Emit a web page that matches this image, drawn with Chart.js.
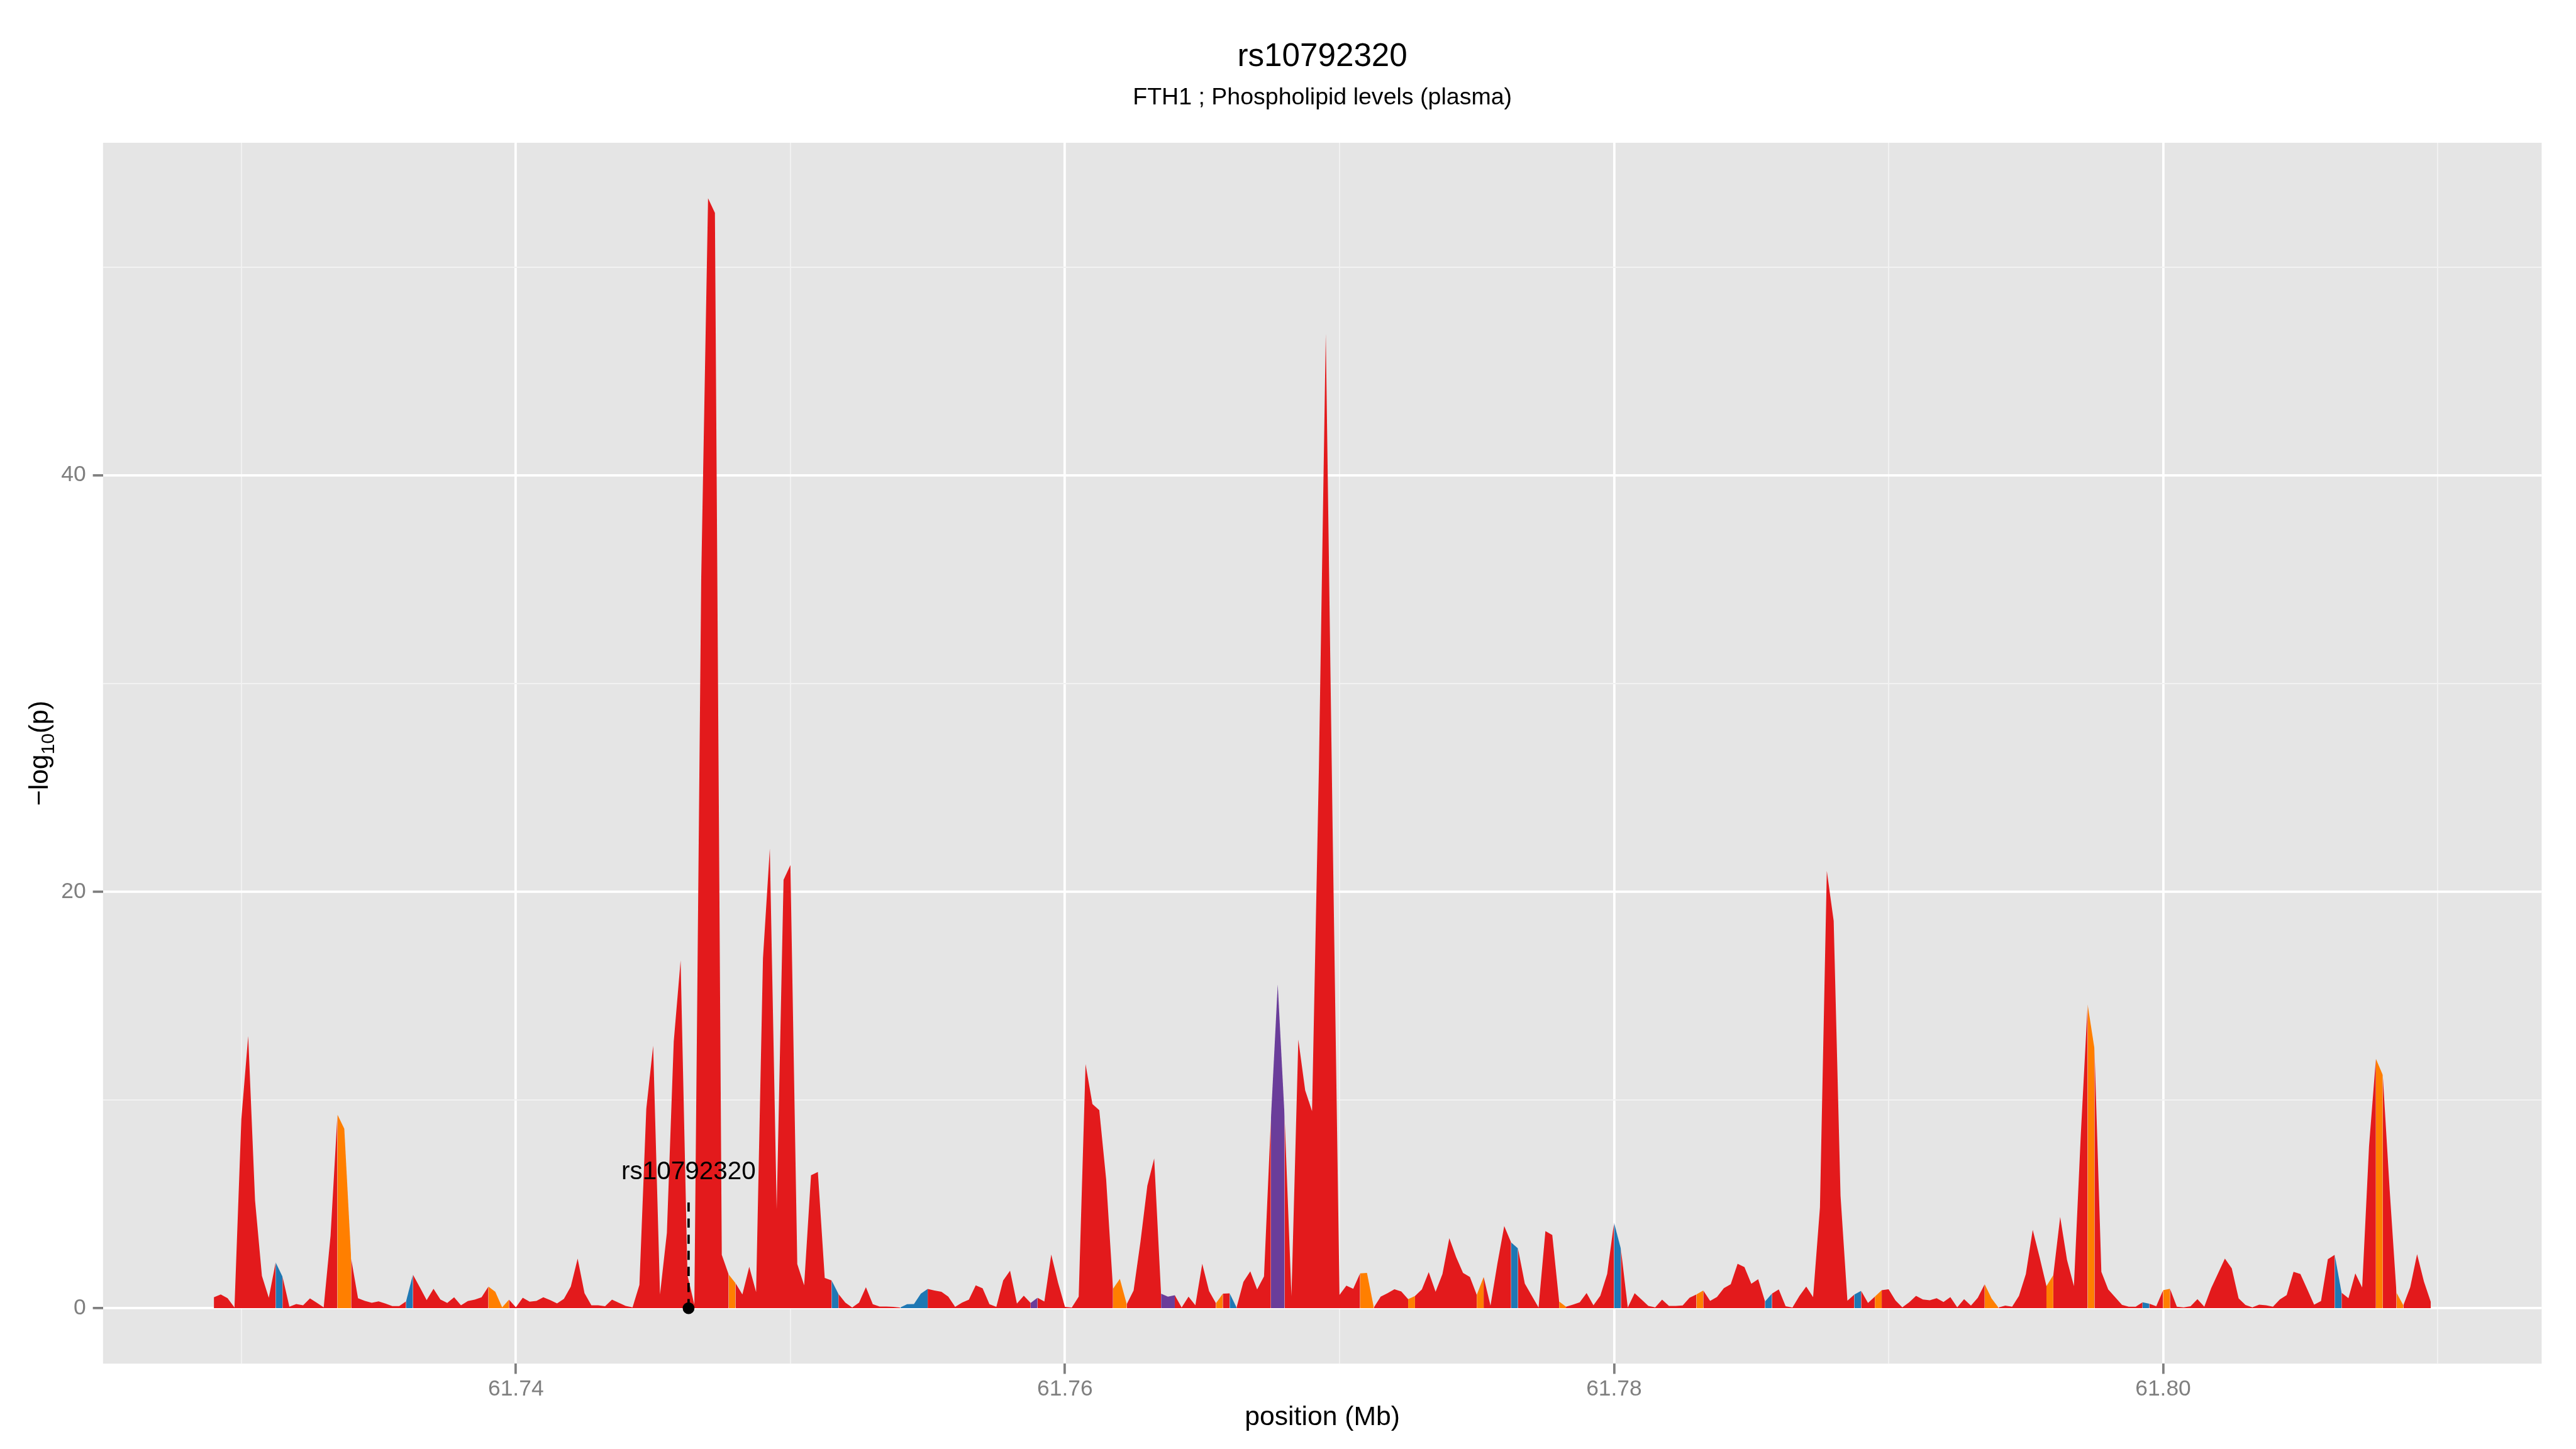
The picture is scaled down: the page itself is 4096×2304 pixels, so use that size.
<!DOCTYPE html>
<html><head><meta charset="utf-8">
<script src="https://cdn.jsdelivr.net/npm/chart.js@4.4.1/dist/chart.umd.min.js"></script>
<style>html,body{margin:0;padding:0;background:#fff;}canvas{display:block;}</style>
</head><body>
<canvas id="c" width="4096" height="2304"></canvas>
<script>
// ---------------- DATA ----------------
const positionsMb = [
61.72900,61.72925,61.72950,61.72975,61.73000,61.73025,61.73050,61.73075,61.73100,61.73125,61.73150,61.73175,61.73200,61.73225,61.73250,61.73275,
61.73300,61.73325,61.73350,61.73375,61.73400,61.73425,61.73450,61.73475,61.73500,61.73525,61.73550,61.73575,61.73600,61.73625,61.73650,61.73675,
61.73700,61.73725,61.73750,61.73775,61.73800,61.73825,61.73850,61.73875,61.73900,61.73925,61.73950,61.73975,61.74000,61.74025,61.74050,61.74075,
61.74100,61.74125,61.74150,61.74175,61.74200,61.74225,61.74250,61.74275,61.74300,61.74325,61.74350,61.74375,61.74400,61.74425,61.74450,61.74475,
61.74500,61.74525,61.74550,61.74575,61.74600,61.74625,61.74650,61.74675,61.74700,61.74725,61.74750,61.74775,61.74800,61.74825,61.74850,61.74875,
61.74900,61.74925,61.74950,61.74975,61.75000,61.75025,61.75050,61.75075,61.75100,61.75125,61.75150,61.75175,61.75200,61.75225,61.75250,61.75275,
61.75300,61.75325,61.75350,61.75375,61.75400,61.75425,61.75450,61.75475,61.75500,61.75525,61.75550,61.75575,61.75600,61.75625,61.75650,61.75675,
61.75700,61.75725,61.75750,61.75775,61.75800,61.75825,61.75850,61.75875,61.75900,61.75925,61.75950,61.75975,61.76000,61.76025,61.76050,61.76075,
61.76100,61.76125,61.76150,61.76175,61.76200,61.76225,61.76250,61.76275,61.76300,61.76325,61.76350,61.76375,61.76400,61.76425,61.76450,61.76475,
61.76500,61.76525,61.76550,61.76575,61.76600,61.76625,61.76650,61.76675,61.76700,61.76725,61.76750,61.76775,61.76800,61.76825,61.76850,61.76875,
61.76900,61.76925,61.76950,61.76975,61.77000,61.77025,61.77050,61.77075,61.77100,61.77125,61.77150,61.77175,61.77200,61.77225,61.77250,61.77275,
61.77300,61.77325,61.77350,61.77375,61.77400,61.77425,61.77450,61.77475,61.77500,61.77525,61.77550,61.77575,61.77600,61.77625,61.77650,61.77675,
61.77700,61.77725,61.77750,61.77775,61.77800,61.77825,61.77850,61.77875,61.77900,61.77925,61.77950,61.77975,61.78000,61.78025,61.78050,61.78075,
61.78100,61.78125,61.78150,61.78175,61.78200,61.78225,61.78250,61.78275,61.78300,61.78325,61.78350,61.78375,61.78400,61.78425,61.78450,61.78475,
61.78500,61.78525,61.78550,61.78575,61.78600,61.78625,61.78650,61.78675,61.78700,61.78725,61.78750,61.78775,61.78800,61.78825,61.78850,61.78875,
61.78900,61.78925,61.78950,61.78975,61.79000,61.79025,61.79050,61.79075,61.79100,61.79125,61.79150,61.79175,61.79200,61.79225,61.79250,61.79275,
61.79300,61.79325,61.79350,61.79375,61.79400,61.79425,61.79450,61.79475,61.79500,61.79525,61.79550,61.79575,61.79600,61.79625,61.79650,61.79675,
61.79700,61.79725,61.79750,61.79775,61.79800,61.79825,61.79850,61.79875,61.79900,61.79925,61.79950,61.79975,61.80000,61.80025,61.80050,61.80075,
61.80100,61.80125,61.80150,61.80175,61.80200,61.80225,61.80250,61.80275,61.80300,61.80325,61.80350,61.80375,61.80400,61.80425,61.80450,61.80475,
61.80500,61.80525,61.80550,61.80575,61.80600,61.80625,61.80650,61.80675,61.80700,61.80725,61.80750,61.80775,61.80800,61.80825,61.80850,61.80875,
61.80900,61.80925,61.80950,61.80975
];

const negLog10P = [
0.52, 0.66, 0.48, 0.03, 9.08, 13.07, 5.17, 1.55, 0.50, 2.20,
1.51, 0.07, 0.20, 0.14, 0.47, 0.26, 0.04, 3.49, 9.30, 8.62,
2.38, 0.48, 0.35, 0.26, 0.33, 0.22, 0.10, 0.10, 0.33, 1.61,
1.01, 0.39, 0.93, 0.42, 0.25, 0.52, 0.14, 0.34, 0.41, 0.52,
1.04, 0.79, 0.04, 0.41, 0.04, 0.50, 0.31, 0.35, 0.52, 0.39,
0.23, 0.45, 1.04, 2.38, 0.72, 0.14, 0.14, 0.09, 0.41, 0.26,
0.11, 0.04, 1.12, 9.57, 12.60, 0.66, 3.62, 12.80, 16.70, 1.59,
0.17, 35.0, 53.30, 52.60, 2.56, 1.62, 1.20, 0.66, 1.99, 0.77,
16.80, 22.07, 4.77, 20.57, 21.28, 2.12, 1.10, 6.38, 6.54, 1.45,
1.33, 0.68, 0.27, 0.03, 0.27, 1.01, 0.19, 0.08, 0.08, 0.06,
0.03, 0.19, 0.20, 0.70, 0.92, 0.85, 0.79, 0.55, 0.06, 0.27,
0.41, 1.10, 0.95, 0.19, 0.06, 1.33, 1.80, 0.22, 0.60, 0.25,
0.50, 0.32, 2.58, 1.22, 0.06, 0.03, 0.55, 11.72, 9.80, 9.51,
6.19, 0.93, 1.41, 0.19, 0.85, 3.19, 5.88, 7.19, 0.70, 0.55,
0.62, 0.03, 0.55, 0.14, 2.13, 0.82, 0.24, 0.70, 0.71, 0.03,
1.26, 1.77, 0.90, 1.53, 9.04, 15.55, 9.20, 0.58, 12.90, 10.46,
9.46, 26.0, 46.80, 23.0, 0.64, 1.08, 0.93, 1.67, 1.69, 0.03,
0.55, 0.72, 0.91, 0.80, 0.43, 0.58, 0.90, 1.73, 0.79, 1.64,
3.36, 2.45, 1.69, 1.50, 0.64, 1.50, 0.12, 2.13, 3.94, 3.16,
2.87, 1.18, 0.61, 0.03, 3.70, 3.51, 0.32, 0.07, 0.17, 0.28,
0.73, 0.14, 0.60, 1.65, 4.11, 2.84, 0.03, 0.72, 0.42, 0.11,
0.04, 0.41, 0.11, 0.11, 0.13, 0.50, 0.66, 0.85, 0.35, 0.54,
0.96, 1.15, 2.13, 1.97, 1.17, 1.39, 0.32, 0.70, 0.90, 0.09,
0.03, 0.58, 1.04, 0.53, 4.84, 21.00, 18.60, 5.39, 0.36, 0.65,
0.83, 0.25, 0.55, 0.86, 0.91, 0.37, 0.04, 0.28, 0.59, 0.42,
0.38, 0.48, 0.30, 0.53, 0.04, 0.43, 0.12, 0.50, 1.15, 0.47,
0.03, 0.12, 0.07, 0.59, 1.64, 3.76, 2.45, 1.06, 1.59, 4.38,
2.31, 1.06, 8.30, 14.59, 12.45, 1.75, 0.90, 0.53, 0.16, 0.07,
0.07, 0.28, 0.21, 0.09, 0.86, 0.93, 0.07, 0.04, 0.09, 0.43,
0.07, 0.96, 1.67, 2.38, 1.91, 0.47, 0.15, 0.04, 0.17, 0.14,
0.07, 0.42, 0.63, 1.75, 1.64, 0.91, 0.17, 0.34, 2.35, 2.56,
0.74, 0.48, 1.67, 0.99, 7.78, 11.98, 11.20, 5.71, 0.74, 0.14,
1.01, 2.59, 1.28, 0.30
];

// interval (i -> i+1) colour groups; all other intervals are red
const blueIntervals   = [9, 28, 90, 100, 101, 102, 103, 148, 189, 204, 226, 239, 281, 309];
const orangeIntervals = [18, 19, 40, 41, 42, 75, 131, 132, 146, 167, 168, 174, 184, 196, 216, 242, 258, 259, 267, 273, 284, 315, 318];
const purpleIntervals = [119, 138, 139, 154, 155];

const xMajorTicks = [61.74, 61.76, 61.78, 61.80];
const xMinorTicks = [61.73, 61.75, 61.77, 61.79, 61.81];
const yMajorTicks = [0, 20, 40];
const yMinorTicks = [10, 30, 50];

const snpName = 'rs10792320';
const snpPosMb = 61.74629;
const snpLineTop = 5.3;
const snpLabelY = 6.2;

const titleText = 'rs10792320';
const subtitleText = 'FTH1 ; Phospholipid levels (plasma)';
const xTitleText = 'position (Mb)';

// ---------------- STYLE / LAYOUT ----------------
const S = 4096 / 4800;
const FONT = '"Liberation Sans", Arial, Helvetica, sans-serif';
const RED = '#E31A1C', BLUE = '#1F78B4', ORANGE = '#FF7F00', PURPLE = '#6A3D9A';
const panel = { left: 192 * S, right: 4736 * S, top: 266 * S, bottom: 2541 * S };

const segColor = new Array(positionsMb.length - 1).fill(RED);
blueIntervals.forEach(i => segColor[i] = BLUE);
orangeIntervals.forEach(i => segColor[i] = ORANGE);
purpleIntervals.forEach(i => segColor[i] = PURPLE);

const xMinD = Math.min(...positionsMb), xMaxD = Math.max(...positionsMb);
const xPad = (xMaxD - xMinD) * 0.05;
const yMinD = 0, yMaxD = Math.max(...negLog10P);
const yPad = (yMaxD - yMinD) * 0.05;

const isIn = (v, arr) => arr.some(a => Math.abs(a - v) < 1e-9);
const tickList = (a, b) => [...a, ...b].sort((p, q) => p - q).map(v => ({ value: v }));

const areaData = positionsMb.map((x, i) => ({ x, y: negLog10P[i] }));

const ggPlugin = {
  id: 'ggDecor',
  beforeDraw(chart) {
    const { ctx, chartArea: a } = chart;
    ctx.save();
    ctx.fillStyle = '#FFFFFF';
    ctx.fillRect(0, 0, chart.width, chart.height);
    ctx.fillStyle = '#E5E5E5';
    ctx.fillRect(a.left, a.top, a.right - a.left, a.bottom - a.top);
    ctx.restore();
  },
  afterDatasetsDraw(chart) {
    const { ctx } = chart;
    const xs = chart.scales.x, ys = chart.scales.y;
    ctx.save();
    ctx.fillStyle = '#000000';
    ctx.font = `${47.4 * S}px ${FONT}`;
    ctx.textAlign = 'center';
    ctx.textBaseline = 'alphabetic';
    ctx.fillText(snpName, xs.getPixelForValue(snpPosMb), ys.getPixelForValue(snpLabelY));
    ctx.restore();
  },
  afterDraw(chart) {
    const { ctx, chartArea: a } = chart;
    const cx = (a.left + a.right) / 2;
    ctx.save();
    ctx.fillStyle = '#000000';
    ctx.textAlign = 'center';
    ctx.textBaseline = 'alphabetic';
    ctx.font = `${60 * S}px ${FONT}`;
    ctx.fillText(titleText, cx, 123 * S);
    ctx.font = `${44 * S}px ${FONT}`;
    ctx.fillText(subtitleText, cx, 194 * S);
    ctx.font = `${50 * S}px ${FONT}`;
    ctx.fillText(xTitleText, cx, 2655 * S);
    // y-axis title: −log10(p) with subscript
    const fs = 50 * S, fsSub = fs * 0.7;
    const cy = (a.top + a.bottom) / 2;
    ctx.translate(89.5 * S, cy);
    ctx.rotate(-Math.PI / 2);
    ctx.textAlign = 'left';
    ctx.font = `${fs}px ${FONT}`;
    const p1 = '\u2212log', p3 = '(p)';
    const w1 = ctx.measureText(p1).width, w3 = ctx.measureText(p3).width;
    ctx.font = `${fsSub}px ${FONT}`;
    const w2 = ctx.measureText('10').width;
    const x0 = -(w1 + w2 + w3) / 2;
    ctx.font = `${fs}px ${FONT}`;
    ctx.fillText(p1, x0, 0);
    ctx.font = `${fsSub}px ${FONT}`;
    ctx.fillText('10', x0 + w1, fs * 0.22);
    ctx.font = `${fs}px ${FONT}`;
    ctx.fillText(p3, x0 + w1 + w2, 0);
    ctx.restore();
  }
};

new Chart(document.getElementById('c'), {
  data: {
    datasets: [
      {
        type: 'line',
        data: areaData,
        order: 3,
        fill: 'origin',
        backgroundColor: RED,
        borderColor: 'rgba(0,0,0,0)',
        borderWidth: 0,
        pointRadius: 0,
        tension: 0,
        segment: { backgroundColor: c => segColor[c.p0DataIndex] }
      },
      {
        type: 'line',
        data: [{ x: snpPosMb, y: 0 }, { x: snpPosMb, y: snpLineTop }],
        order: 2,
        fill: false,
        borderColor: '#000000',
        borderWidth: 4.4 * S,
        borderDash: [17 * S, 13 * S],
        pointRadius: 0,
        tension: 0
      },
      {
        type: 'scatter',
        data: [{ x: snpPosMb, y: 0 }],
        order: 1,
        backgroundColor: '#000000',
        borderWidth: 0,
        pointRadius: 11 * S
      }
    ]
  },
  options: {
    responsive: false,
    animation: false,
    devicePixelRatio: 1,
    events: [],
    layout: { padding: { top: panel.top, right: 4096 - panel.right, left: 0, bottom: 0 } },
    plugins: { legend: { display: false }, tooltip: { enabled: false }, title: { display: false } },
    scales: {
      x: {
        type: 'linear',
        position: 'bottom',
        min: xMinD - xPad,
        max: xMaxD + xPad,
        afterBuildTicks: s => { s.ticks = tickList(xMajorTicks, xMinorTicks); },
        afterFit: s => { s.height = 2304 - panel.bottom; },
        border: { display: false },
        grid: {
          color: c => (c.tick && isIn(c.tick.value, xMajorTicks)) ? '#FFFFFF' : '#F2F2F2',
          lineWidth: c => (c.tick && isIn(c.tick.value, xMajorTicks)) ? 4.4 * S : 2.2 * S,
          tickColor: c => (c.tick && isIn(c.tick.value, xMajorTicks)) ? '#7F7F7F' : 'rgba(0,0,0,0)',
          tickWidth: 4.4 * S,
          tickLength: 19 * S,
          drawTicks: true
        },
        ticks: {
          autoSkip: false,
          maxRotation: 0,
          padding: 3,
          color: '#7F7F7F',
          font: { family: FONT, size: 41.5 * S },
          callback: v => isIn(v, xMajorTicks) ? Number(v).toFixed(2) : ''
        }
      },
      y: {
        type: 'linear',
        position: 'left',
        min: yMinD - yPad,
        max: yMaxD + yPad,
        afterBuildTicks: s => { s.ticks = tickList(yMajorTicks, yMinorTicks); },
        afterFit: s => { s.width = panel.left; },
        border: { display: false },
        grid: {
          color: c => (c.tick && isIn(c.tick.value, yMajorTicks)) ? '#FFFFFF' : '#F2F2F2',
          lineWidth: c => (c.tick && isIn(c.tick.value, yMajorTicks)) ? 4.4 * S : 2.2 * S,
          tickColor: c => (c.tick && isIn(c.tick.value, yMajorTicks)) ? '#7F7F7F' : 'rgba(0,0,0,0)',
          tickWidth: 4.4 * S,
          tickLength: 19 * S,
          drawTicks: true
        },
        ticks: {
          autoSkip: false,
          padding: 11,
          color: '#7F7F7F',
          font: { family: FONT, size: 41.5 * S },
          callback: v => isIn(v, yMajorTicks) ? String(v) : ''
        }
      }
    }
  },
  plugins: [ggPlugin]
});
</script>
</body></html>
